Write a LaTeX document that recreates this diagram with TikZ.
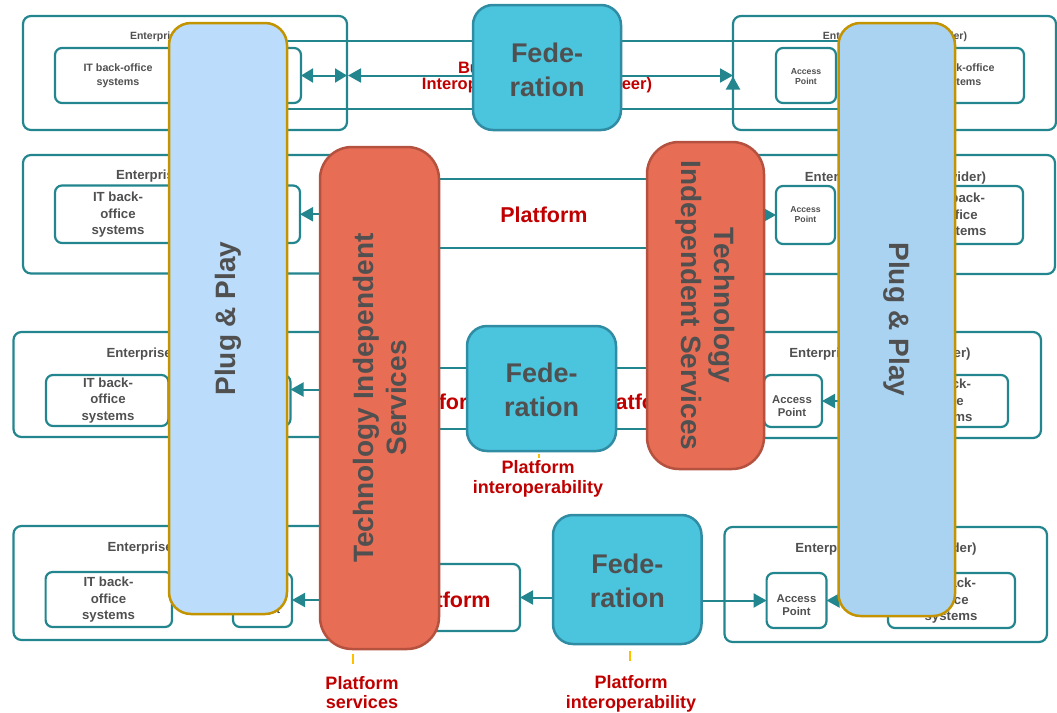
\documentclass[tikz,border=0pt]{standalone}
\usepackage{fontspec}
\setmainfont{Liberation Sans}
\usetikzlibrary{arrows.meta,calc}
\pgfdeclarelayer{feds}
\pgfdeclarelayer{bars}
\pgfsetlayers{main,feds,bars}
\definecolor{tealc}{HTML}{23868F}
\definecolor{txtg}{HTML}{505050}
\definecolor{redc}{HTML}{C00000}
\definecolor{fedf}{HTML}{4BC4DE}
\definecolor{fedb}{HTML}{2F8CA3}
\definecolor{orf}{HTML}{E86D55}
\definecolor{orb}{HTML}{B5513F}
\definecolor{bluefl}{HTML}{BBDDFB}
\definecolor{bluefr}{HTML}{AAD3F2}
\definecolor{goldc}{HTML}{C39300}
\definecolor{ticky}{HTML}{FFC000}
\newcommand{\mkbox}[6]{\node[#2, minimum width={#5-#3}, minimum height={#6-#4}] (#1) at ({(#3+#5)/2},{-(#4+#6)/2}) {};}
\begin{document}
\begin{tikzpicture}[x=1pt,y=1pt,
  every node/.style={inner sep=0pt, outer sep=0pt},
  entbox/.style={draw=tealc, line width=2.2pt, rounded corners=8pt, fill=white},
  inbox/.style={draw=tealc, line width=2.2pt, rounded corners=7pt, fill=white},
  band/.style={draw=tealc, line width=2pt},
  arr/.style={draw=tealc, line width=2pt, -{Triangle[length=13pt,width=14pt]}},
  darr/.style={draw=tealc, line width=2pt, {Triangle[length=12pt,width=14pt]}-{Triangle[length=12pt,width=14pt]}},
  fedbox/.style={draw=fedb, fill=fedf, line width=2.5pt, rounded corners=20pt},
  orbar/.style={draw=orb, fill=orf, line width=2.5pt, rounded corners=32pt},
  blbar/.style={draw=goldc, line width=2.5pt, rounded corners=22pt},
  bigtxt/.style={text=txtg, align=center, font={\fontsize{28}{33}\selectfont\bfseries}},
  fedtxt/.style={text=txtg, align=center, font={\fontsize{27}{34}\selectfont\bfseries}},
  entl/.style={text=txtg, font={\fontsize{13.2}{15}\selectfont\bfseries}},
  ents/.style={text=txtg, font={\fontsize{10.5}{12}\selectfont\bfseries}},
  itl/.style={text=txtg, align=center, font={\fontsize{13.2}{16.5}\selectfont\bfseries}},
  its/.style={text=txtg, align=center, font={\fontsize{10.7}{14}\selectfont\bfseries}},
  apl/.style={text=txtg, align=center, font={\fontsize{11.3}{13}\selectfont\bfseries}},
  aps/.style={text=txtg, align=center, font={\fontsize{8.7}{10}\selectfont\bfseries}},
  redmid/.style={text=redc, font={\fontsize{21.5}{24}\selectfont\bfseries}},
  redbot/.style={text=redc, align=center, font={\fontsize{18}{19.5}\selectfont\bfseries}},
  redtop/.style={text=redc, font={\fontsize{16.5}{17}\selectfont\bfseries}},
  tick/.style={draw=ticky, line width=2pt}
]
\useasboundingbox (0,0) rectangle (1057,-712);

% ---------- bars (top layer) ----------
\begin{pgfonlayer}{bars}
\mkbox{or1}{orbar}{320}{147}{439}{649}
\node[rotate=90, bigtxt] (or1t) at (or1) {Technology Independent\\Services};
\mkbox{or2}{orbar}{647}{142}{764}{469}
\node[rotate=-90, bigtxt] (or2t) at (or2) {Technology\\Independent Services};
\mkbox{pp1}{blbar, fill=bluefl}{169}{23}{287}{614}
\node[rotate=90, bigtxt] (pp1t) at (pp1) {Plug \& Play};
\mkbox{pp2}{blbar, fill=bluefr}{838.5}{23}{955}{616}
\node[rotate=-90, bigtxt] (pp2t) at (pp2) {Plug \& Play};
\end{pgfonlayer}

% ---------- federations ----------
\begin{pgfonlayer}{feds}
\mkbox{fed1}{fedbox}{473}{5}{621}{130}
\node[fedtxt] (fed1t) at ([yshift=-2pt]fed1) {Fede-\\ration};
\mkbox{fed2}{fedbox}{467}{326}{616}{451}
\node[fedtxt] (fed2t) at ([yshift=-1pt]fed2) {Fede-\\ration};
\mkbox{fed3}{fedbox}{553}{515}{701.5}{644}
\node[fedtxt] (fed3t) at ([yshift=-1pt]fed3) {Fede-\\ration};
\end{pgfonlayer}

% ---------- row 1 ----------
\mkbox{ent1l}{entbox}{23}{16}{347}{130}
\node[ents, anchor=west] (ent1lt) at (130,-36.5) {Enterprise (Service user)};
\mkbox{it1l}{inbox}{55}{48}{230}{103}
\node[its] (it1lt) at (118,-76) {IT back-office\\systems};
\mkbox{ap1l}{inbox}{241}{48}{301}{103}
\node[aps] (ap1lt) at (271,-76) {Access\\Point};
\mkbox{ent1r}{entbox}{733}{16}{1056}{130}
\node[ents] (ent1rt) at (895,-37) {Enterprise (Service provider)};
\mkbox{ap1r}{inbox}{776}{48}{836}{103}
\node[aps] (ap1rt) at (806,-76.5) {Access\\Point};
\mkbox{it1r}{inbox}{849}{48}{1024}{103}
\node[its] (it1rt) at (960,-76) {IT back-office\\systems};
\draw[band] (230,-41) rectangle (850,-109);
\draw[darr] (ap1l.east) -- (ap1l.east -| ent1l.east);
\draw[arr] (fed1.west |- ap1l.east) -- ([xshift=1pt]ap1l.east -| ent1l.east);
\draw[arr] (fed1.east |- ap1r.west) -- (ap1r.west -| ent1r.west);
\coordinate (up1) at (733,-94);
\draw[arr] (up1) -- ([yshift=-1pt]up1 |- ap1r.west);
\node[redtop, anchor=west] (biz1) at (458,-68) {Business};
\node[redtop] (biz2) at (537,-85) {Interoperability (Peer to peer)};

% ---------- row 2 ----------
\mkbox{ent2l}{entbox}{23}{155}{380}{273.5}
\node[entl, anchor=west] (ent2lt) at (116,-176.5) {Enterprise (Service user)};
\mkbox{it2l}{inbox}{55}{185.5}{230}{243}
\node[itl] (it2lt) at (118,-215) {IT back-\\office\\systems};
\mkbox{ap2l}{inbox}{241}{185.5}{300}{243}
\node[aps] (ap2lt) at (270.5,-214) {Access\\Point};
\mkbox{ent2r}{entbox}{735}{155}{1055}{274}
\node[entl] (ent2rt) at (895.5,-178) {Enterprise (Service provider)};
\mkbox{ap2r}{inbox}{776}{186}{835}{244}
\node[aps] (ap2rt) at (805.5,-215) {Access\\Point};
\mkbox{it2r}{inbox}{849}{186}{1023}{244}
\node[itl] (it2rt) at (960,-216) {IT back-\\office\\systems};
\draw[band] (400,-179) rectangle (700,-248);
\node[redmid] (plat2) at (544,-215) {Platform};
\draw[arr] (or1.west |- ap2l.east) -- (ap2l.east);
\draw[arr] (or2.east |- ap2r.west) -- (ap2r.west);

% ---------- row 3 ----------
\mkbox{ent3l}{entbox}{13.5}{332}{380}{437}
\node[entl, anchor=west] (ent3lt) at (106.5,-354) {Enterprise (Service user)};
\mkbox{it3l}{inbox}{46}{375}{168.5}{426}
\node[itl] (it3lt) at (108,-400.5) {IT back-\\office\\systems};
\mkbox{ap3l}{inbox}{232.5}{375}{290.5}{426}
\node[apl] (ap3lt) at (261.5,-401) {Access\\Point};
\mkbox{ent3r}{entbox}{700}{332}{1041}{438}
\node[entl] (ent3rt) at (880,-354) {Enterprise (Service provider)};
\mkbox{ap3r}{inbox}{764}{375}{822}{427}
\node[apl] (ap3rt) at (792,-406) {Access\\Point};
\mkbox{it3r}{inbox}{886}{375}{1008}{427}
\node[itl] (it3rt) at (946,-402) {IT back-\\office\\systems};
\draw[band] (400,-368) rectangle (700,-429);
\node[redmid] (plat3l) at (443,-402) {Platform};
\node[redmid] (plat3r) at (639,-402) {Platform};
\coordinate (a3l) at ([yshift=11pt]ap3l.east);
\draw[arr] (or1.west |- a3l) -- (a3l);
\draw[arr] (it3r.west) -- (ap3r.east);
\node[redbot] (pi3) at (538,-479) {Platform\\interoperability};
\draw[tick] ([xshift=-2.5pt,yshift=-3pt]fed2.south) -- ([xshift=-2.5pt,yshift=-7pt]fed2.south);

% ---------- row 4 ----------
\mkbox{ent4l}{entbox}{13.5}{526}{380}{640}
\node[entl, anchor=west] (ent4lt) at (107.5,-548) {Enterprise (Service user)};
\mkbox{it4l}{inbox}{45.6}{572}{172}{627}
\node[itl] (it4lt) at (108.5,-600) {IT back-\\office\\systems};
\mkbox{ap4l}{inbox}{233}{573}{292}{627}
\node[apl] (ap4lt) at (266,-603) {Access\\Point};
\mkbox{ent4r}{entbox}{724.5}{527}{1047}{642}
\node[entl] (ent4rt) at (886,-549) {Enterprise (Service provider)};
\mkbox{ap4r}{inbox}{766.6}{573}{826.5}{628}
\node[apl] (ap4rt) at (796.5,-605.5) {Access\\Point};
\mkbox{it4r}{inbox}{888}{573}{1015}{628}
\node[itl] (it4rt) at (951,-601) {IT back-\\office\\systems};
\mkbox{box4m}{inbox}{360}{564}{520}{631}
\node[redmid] (plat4) at (447,-600) {Platform};
\draw[arr] (fed3.west |- box4m.east) -- (box4m.east);
\draw[arr] (fed3.east |- ap4r.west) -- (ap4r.west);
\draw[arr] (or1.west |- ap4l.east) -- (ap4l.east);
\draw[arr] (it4r.west) -- (ap4r.east);
\node[redbot] (ps4) at (362,-692.5) {Platform\\services};
\node[redbot] (pi4) at (631,-694) {Platform\\interoperability};
\draw[tick] ([xshift=-26.5pt,yshift=-5pt]or1.south) -- ([xshift=-26.5pt,yshift=-15pt]or1.south);
\draw[tick] ([xshift=3pt,yshift=-7pt]fed3.south) -- ([xshift=3pt,yshift=-17pt]fed3.south);
\end{tikzpicture}
\end{document}
